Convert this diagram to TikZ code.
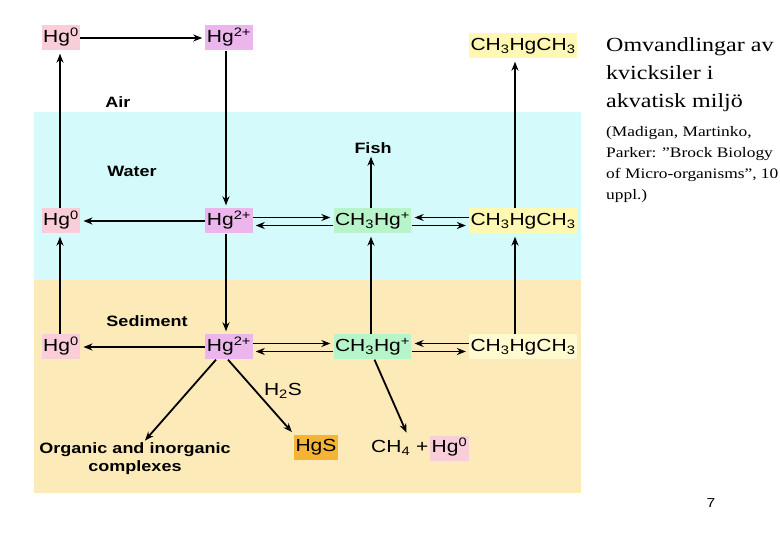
\documentclass[tikz,border=0pt]{standalone}
\usepackage{fontspec}
\setmainfont{Liberation Sans}[FakeStretch=1.2]
\newfontfamily\ttlfont{Liberation Serif}[FakeStretch=1.2]
\usetikzlibrary{arrows.meta}
\definecolor{waterbg}{RGB}{212,250,252}
\definecolor{sedbg}{RGB}{253,234,185}
\definecolor{pinkc}{RGB}{249,206,216}
\definecolor{violc}{RGB}{236,182,236}
\definecolor{greenc}{RGB}{184,244,202}
\definecolor{yellc}{RGB}{255,248,178}
\definecolor{yellc2}{RGB}{255,250,208}
\definecolor{orangec}{RGB}{246,180,52}
\tikzset{
  chem/.style={font=\fontsize{17.5}{20}\selectfont, inner xsep=1.5pt, inner ysep=0pt,
    text height=13pt, text depth=4pt, minimum height=25pt},
  lbl/.style={font=\fontsize{15}{18}\selectfont\bfseries, inner sep=0pt},
  ttl/.style={font=\ttlfont\fontsize{20}{24}\selectfont, inner sep=0pt, anchor=base west},
  sub/.style={font=\ttlfont\fontsize{14.5}{17}\selectfont, inner sep=0pt, anchor=base west},
  arr/.style={line width=1.8pt, -{Stealth[length=9pt,width=7pt]}, shorten >=3pt},
  hg0/.style={chem, fill=pinkc},
  hg2/.style={chem, fill=violc},
  mhg/.style={chem, fill=greenc},
  dmhg/.style={chem, fill=yellc, minimum width=100pt}
}
\begin{document}
\begin{tikzpicture}[x=1pt,y=-1pt]
\useasboundingbox (0,0) rectangle (780,540);
\fill[white] (0,0) rectangle (780,540);
\fill[waterbg] (34,112) rectangle (581,280);
\fill[sedbg] (34,280) rectangle (581,493);

% Air
\node[hg0] (h0a) at (61,38) {Hg\textsuperscript{0}};
\node[hg2] (h2a) at (229,38) {Hg\textsuperscript{2+}};
\node[dmhg] (dma) at (523,46) {CH\textsubscript{3}HgCH\textsubscript{3}};
\node[lbl] (air) at (118,102) {Air};

% Water
\node[lbl] (water) at (132,171) {Water};
\node[lbl] (fish) at (373,148) {Fish};
\node[hg0] (h0w) at (61,221) {Hg\textsuperscript{0}};
\node[hg2] (h2w) at (229,221) {Hg\textsuperscript{2+}};
\node[mhg] (mw) at (372.5,221) {CH\textsubscript{3}Hg\textsuperscript{+}};
\node[dmhg] (dmw) at (523,221) {CH\textsubscript{3}HgCH\textsubscript{3}};

% Sediment
\node[lbl] (sed) at (147,321) {Sediment};
\node[hg0] (h0s) at (61,347) {Hg\textsuperscript{0}};
\node[hg2] (h2s) at (229,347) {Hg\textsuperscript{2+}};
\node[mhg] (ms) at (372.5,347) {CH\textsubscript{3}Hg\textsuperscript{+}};
\node[dmhg, fill=yellc2] (dms) at (523,347) {CH\textsubscript{3}HgCH\textsubscript{3}};
\node[chem] (h2slbl) at (283,391) {H\textsubscript{2}S};
\node[lbl, align=center] (org) at (135,459) {Organic and inorganic\\complexes};
\node[chem, fill=orangec] (hgs) at (316,447) {HgS};
\node[chem, anchor=east] (ch4) at (430,448) {CH\textsubscript{4} +};
\node[hg0, anchor=west] (h0c) at (430,448) {Hg\textsuperscript{0}};

% Title text
\node[ttl] (t1) at (606,52) {Omvandlingar av};
\node[ttl] (t2) at (606,80) {kvicksiler i};
\node[ttl] (t3) at (606,108) {akvatisk miljö};
\node[sub] (s1) at (606,137) {(Madigan, Martinko,};
\node[sub] (s2) at (606,158) {Parker: ”Brock Biology};
\node[sub] (s3) at (606,179) {of Micro-organisms”, 10};
\node[sub] (s4) at (606,200) {uppl.)};
\node[font=\fontsize{13}{15}\selectfont, inner sep=0pt] (pg) at (711,503) {7};

% Air arrows
\draw[arr] (h0a) -- (h2a);
\draw[arr] ([xshift=-3pt]h2a.south) -- ([xshift=-3pt]h2w.north);
\draw[arr] ([xshift=-1pt]h0w.north) -- ([xshift=-1pt]h0a.south);
\draw[arr] ([xshift=-8pt]dmw.north) -- ([xshift=-8pt]dma.south);

% Water arrows
\draw[arr] (h2w) -- (h0w);
\draw[arr] ([yshift=3.5pt]h2w.east) -- ([yshift=3.5pt]mw.west);
\draw[arr] ([yshift=-4.5pt]mw.west) -- ([yshift=-4.5pt]h2w.east);
\draw[arr] ([yshift=3.5pt]dmw.west) -- ([yshift=3.5pt]mw.east);
\draw[arr] ([yshift=-4.5pt]mw.east) -- ([yshift=-4.5pt]dmw.west);
\draw[arr] ([xshift=-1.5pt]mw.north) -- ([xshift=-1.5pt]mw.north |- fish.south);

% Water-sediment arrows
\draw[arr] ([xshift=-1pt]h0s.north) -- ([xshift=-1pt]h0w.south);
\draw[arr] ([xshift=-3pt]h2w.south) -- ([xshift=-3pt]h2s.north);
\draw[arr] ([xshift=-1.5pt]ms.north) -- ([xshift=-1.5pt]mw.south);
\draw[arr] ([xshift=-8pt]dms.north) -- ([xshift=-8pt]dmw.south);

% Sediment arrows
\draw[arr] (h2s) -- (h0s);
\draw[arr] ([yshift=3.5pt]h2s.east) -- ([yshift=3.5pt]ms.west);
\draw[arr] ([yshift=-4.5pt]ms.west) -- ([yshift=-4.5pt]h2s.east);
\draw[arr] ([yshift=3.5pt]dms.west) -- ([yshift=3.5pt]ms.east);
\draw[arr] ([yshift=-4.5pt]ms.east) -- ([yshift=-4.5pt]dms.west);
\draw[arr] ([xshift=-13pt]h2s.south) -- ([xshift=8pt]org.north);
\draw[arr] ([xshift=-1pt]h2s.south) -- (hgs.north west);
\draw[arr] ([xshift=2pt]ms.south) -- ([xshift=8pt]ch4.north);
\end{tikzpicture}
\end{document}
